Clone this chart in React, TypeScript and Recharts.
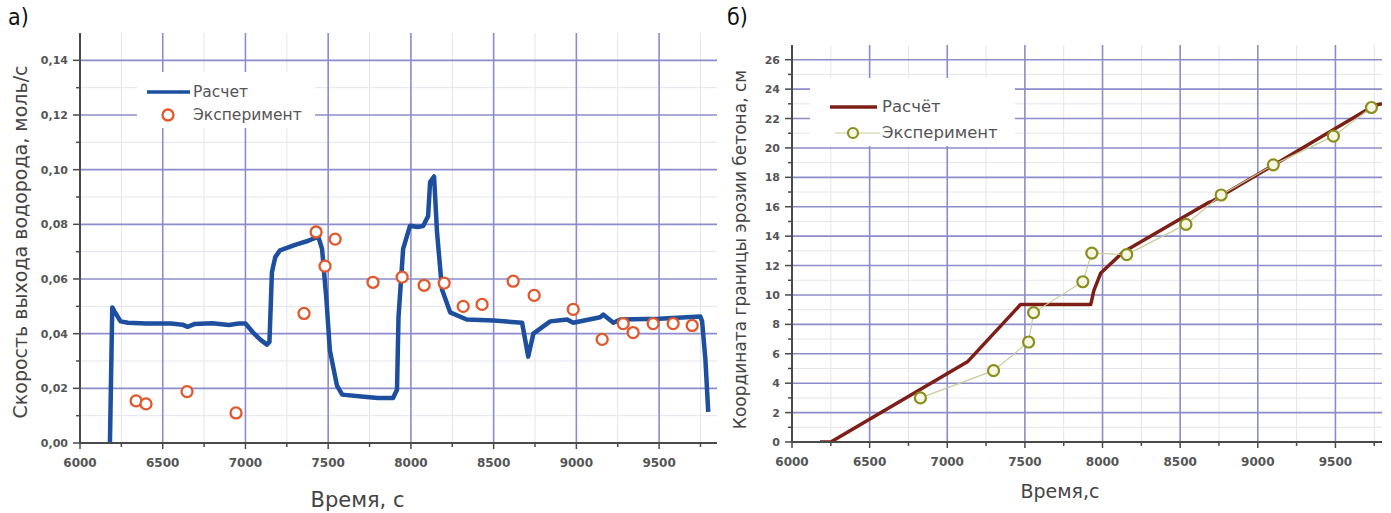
import { CartesianGrid, ComposedChart, Legend, Line, Scatter, XAxis, YAxis } from 'recharts';

const FONT = '"DejaVu Sans", "Liberation Sans", Arial, sans-serif';
const AXIS = '#4a4a4a';
const GRID_MAJOR = '#8c8cca';
const GRID_MINOR = '#e4e4ee';

// ---- panel a): hydrogen release rate ----
const calcTimeA = [
    6181, 6195, 6210, 6225, 6245, 6290, 6400, 6550, 6620, 6650, 6690, 6800, 6900, 6960, 7000,
    7046, 7090, 7130, 7145, 7160, 7180, 7209, 7300, 7380, 7440, 7463, 7490, 7510, 7553, 7585,
    7700, 7800, 7892, 7916, 7925, 7953, 7995, 8040, 8074, 8104, 8116, 8140, 8158, 8188, 8237,
    8337, 8500, 8672, 8709, 8740, 8842, 8944, 8981, 9144, 9162, 9224, 9265, 9500, 9749, 9760,
    9780, 9797,
];
const calcRateA = [
    0, 0.0496, 0.048, 0.0465, 0.0445, 0.044, 0.0437, 0.0437, 0.0433, 0.0425, 0.0435, 0.0438, 0.0432, 0.0437, 0.0437,
    0.0404, 0.0378, 0.036, 0.037, 0.0625, 0.068, 0.0705, 0.0725, 0.074, 0.0755, 0.071, 0.052, 0.034, 0.021, 0.0177,
    0.017, 0.0165, 0.0165, 0.0195, 0.046, 0.071, 0.0795, 0.079, 0.0794, 0.083, 0.0955, 0.0975, 0.077, 0.0562, 0.0478,
    0.0452, 0.0448, 0.044, 0.0316, 0.04, 0.0445, 0.0452, 0.044, 0.046, 0.047, 0.044, 0.0452, 0.0455, 0.0463, 0.0445,
    0.0305, 0.0114,
];
const expTimeA = [
    6339, 6399, 6647, 6943, 7354, 7427, 7481, 7542, 7771, 7947, 8080, 8201, 8316, 8430, 8618,
    8745, 8981, 9156, 9283, 9343, 9464, 9585, 9700,
];
const expRateA = [
    0.0154, 0.0143, 0.0188, 0.011, 0.0474, 0.0772, 0.0647, 0.0746, 0.0588, 0.0607, 0.0577, 0.0585, 0.05, 0.0507, 0.0592,
    0.054, 0.0489, 0.0379, 0.0437, 0.0404, 0.0437, 0.0437, 0.043,
];

// ---- panel б): concrete erosion front ----
const calcTimeB = [6180, 6250, 7130, 7472, 7924, 7944, 7989, 8131, 8686, 8712, 9752, 9800];
const calcDepthB = [0, 0, 5.45, 9.35, 9.35, 10.3, 11.5, 12.9, 16.3, 16.4, 22.9, 23.0];
const expTimeB = [6827, 7298, 7524, 7556, 7873, 7931, 8156, 8537, 8764, 9100, 9487, 9732];
const expDepthB = [3.0, 4.85, 6.8, 8.8, 10.9, 12.85, 12.75, 14.8, 16.8, 18.85, 20.8, 22.75];

// ---- ticks ----
const timeTicks = [
    6000, 6250, 6500, 6750, 7000, 7250, 7500, 7750, 8000, 8250, 8500, 8750, 9000, 9250, 9500, 9750,
];
const timeMajor = [6500, 7000, 7500, 8000, 8500, 9000, 9500];
const timeMinor = [6250, 6750, 7250, 7750, 8250, 8750, 9250, 9750];
const rateTicks = [0, 0.01, 0.02, 0.03, 0.04, 0.05, 0.06, 0.07, 0.08, 0.09, 0.1, 0.11, 0.12, 0.13, 0.14];
const rateMajor = [0.02, 0.04, 0.06, 0.08, 0.1, 0.12, 0.14];
const rateMinor = [0.01, 0.03, 0.05, 0.07, 0.09, 0.11, 0.13];
const depthTicks = [0, 1, 2, 3, 4, 5, 6, 7, 8, 9, 10, 11, 12, 13, 14, 15, 16, 17, 18, 19, 20, 21, 22, 23, 24, 25, 26];
const depthMajor = [2, 4, 6, 8, 10, 12, 14, 16, 18, 20, 22, 24, 26];
const depthMinor = [1, 3, 5, 7, 9, 11, 13, 15, 17, 19, 21, 23, 25];

const zip = (xs: number[], ys: number[]) => xs.map((x, i) => ({ x, y: ys[i] }));
const calcA = zip(calcTimeA, calcRateA);
const expA = zip(expTimeA, expRateA);
const calcB = zip(calcTimeB, calcDepthB);
const expB = zip(expTimeB, expDepthB);

function TimeTick(props: any) {
    const { x, y, payload } = props;
    const major = payload.value % 500 === 0;
    return (
        <g>
            <line x1={x} x2={x} y1={y} y2={y + (major ? 6 : 4)} stroke={AXIS} strokeWidth={1.5} />
            {major && (
                <text x={x} y={y + 24} textAnchor="middle" fontSize={12} fontWeight="bold" fill="#555" fontFamily={FONT}>
                    {payload.value}
                </text>
            )}
        </g>
    );
}

function ValueTick(props: any) {
    const { x, y, payload, kind } = props;
    const v = payload.value;
    const major = kind === 'rate' ? Math.round(v * 100) % 2 === 0 : v % 2 === 0;
    const label = kind === 'rate' ? v.toFixed(2).replace('.', ',') : String(v);
    return (
        <g>
            <line x1={x - (major ? 7 : 4)} x2={x} y1={y} y2={y} stroke={AXIS} strokeWidth={1.5} />
            {major && (
                <text x={x - 12} y={y + 4} textAnchor="end" fontSize={11} fontWeight="bold" fill="#555" fontFamily={FONT}>
                    {label}
                </text>
            )}
        </g>
    );
}

function Title(props: any) {
    const { viewBox, value, dx = 0, dy = 0, rotate, fontSize } = props;
    const cx = rotate ? viewBox.x + dx : viewBox.x + viewBox.width / 2 + dx;
    const cy = rotate ? viewBox.y + viewBox.height / 2 + dy : viewBox.y + dy;
    return (
        <text
            x={cx}
            y={cy}
            textAnchor="middle"
            dominantBaseline="central"
            transform={rotate ? `rotate(-90 ${cx} ${cy})` : undefined}
            fontSize={fontSize}
            fill="#444"
            fontFamily={FONT}
        >
            {value}
        </text>
    );
}

function LegendA() {
    return (
        <div style={{ position: 'relative', width: 178, height: 56, background: '#fff', fontFamily: FONT, fontSize: 15.5, color: '#555' }}>
            <svg width={178} height={56} style={{ position: 'absolute', left: 0, top: 0 }}>
                <line x1={10} x2={53} y1={20} y2={20} stroke="#1d4f9e" strokeWidth={3.5} />
                <circle cx={31} cy={43} r={5.5} fill="#fff" stroke="#e2572b" strokeWidth={2.3} />
            </svg>
            <span style={{ position: 'absolute', left: 56, top: 10, lineHeight: '20px' }}>Расчет</span>
            <span style={{ position: 'absolute', left: 56, top: 33, lineHeight: '20px' }}>Эксперимент</span>
        </div>
    );
}

function LegendB() {
    return (
        <div style={{ position: 'relative', width: 205, height: 68, background: '#fff', fontFamily: FONT, fontSize: 16.5, color: '#555' }}>
            <svg width={205} height={68} style={{ position: 'absolute', left: 0, top: 0 }}>
                <line x1={20} x2={67} y1={29} y2={29} stroke="#7d1f17" strokeWidth={3.5} />
                <line x1={25} x2={70} y1={55} y2={55} stroke="#c8cc9a" strokeWidth={1.2} />
                <circle cx={43} cy={55} r={5} fill="#f6f7e2" stroke="#8a8f1f" strokeWidth={2.2} />
            </svg>
            <span style={{ position: 'absolute', left: 72, top: 18, lineHeight: '22px' }}>Расчёт</span>
            <span style={{ position: 'absolute', left: 72, top: 44, lineHeight: '22px' }}>Эксперимент</span>
        </div>
    );
}

function ExpDotB(props: any) {
    const { cx, cy } = props;
    return <circle cx={cx} cy={cy} r={5.5} fill="#f6f7e2" stroke="#8a8f1f" strokeWidth={2.2} />;
}

function ExpDotA(props: any) {
    const { cx, cy } = props;
    return <circle cx={cx} cy={cy} r={5.5} fill="#fff" stroke="#e2572b" strokeWidth={2.3} />;
}

function PanelLetter({ text, left }: { text: string; left: number }) {
    return (
        <div style={{ position: 'absolute', left, top: 4, fontFamily: '"DejaVu Sans Condensed", "DejaVu Sans", sans-serif', fontSize: 23, color: '#111' }}>
            {text}
        </div>
    );
}

export default function App() {
    return (
        <div style={{ position: 'absolute', left: 0, top: 0, width: 1391, height: 513, background: '#fff', overflow: 'hidden' }}>
            <PanelLetter text="а)" left={8} />
            <PanelLetter text="б)" left={727} />

            <div style={{ position: 'absolute', left: 0, top: 0 }}>
                <ComposedChart width={720} height={513} margin={{ top: 33, right: 3, bottom: 0, left: 0 }}>
                    <CartesianGrid stroke={GRID_MINOR} strokeWidth={1} horizontalValues={rateMinor} verticalValues={timeMinor} />
                    <CartesianGrid stroke={GRID_MAJOR} strokeWidth={1.6} horizontalValues={rateMajor} verticalValues={timeMajor} />
                    <XAxis
                        type="number"
                        dataKey="x"
                        domain={[6000, 9850]}
                        ticks={timeTicks}
                        interval={0}
                        allowDataOverflow
                        height={70}
                        tickSize={0}
                        tickMargin={0}
                        tickLine={false}
                        tick={<TimeTick />}
                        axisLine={{ stroke: AXIS, strokeWidth: 2 }}
                        label={<Title value="Время, с" dx={-41} dy={57} fontSize={21} />}
                    />
                    <YAxis
                        type="number"
                        dataKey="y"
                        domain={[0, 0.15]}
                        ticks={rateTicks}
                        interval={0}
                        allowDataOverflow
                        width={80}
                        tickSize={0}
                        tickMargin={0}
                        tickLine={false}
                        tick={<ValueTick kind="rate" />}
                        axisLine={{ stroke: AXIS, strokeWidth: 2 }}
                        label={<Title value="Скорость выхода водорода, моль/с" rotate dx={20} dy={4} fontSize={19} />}
                    />
                    <Line
                        data={calcA}
                        dataKey="y"
                        type="linear"
                        stroke="#1d4f9e"
                        strokeWidth={4.5}
                        strokeLinejoin="round"
                        dot={false}
                        isAnimationActive={false}
                        legendType="none"
                    />
                    <Scatter data={expA} dataKey="y" shape={<ExpDotA />} isAnimationActive={false} legendType="none" />
                    <Legend
                        verticalAlign="middle"
                        align="center"
                        layout="horizontal"
                        wrapperStyle={{ left: 137, top: 72, width: 178, height: 56 }}
                        content={() => <LegendA />}
                    />
                </ComposedChart>
            </div>

            <div style={{ position: 'absolute', left: 700, top: 0 }}>
                <ComposedChart width={691} height={513} margin={{ top: 45, right: 9, bottom: 0, left: 0 }}>
                    <CartesianGrid stroke={GRID_MINOR} strokeWidth={1} horizontalValues={depthMinor} verticalValues={timeMinor} />
                    <CartesianGrid stroke={GRID_MAJOR} strokeWidth={1.6} horizontalValues={depthMajor} verticalValues={timeMajor} />
                    <XAxis
                        type="number"
                        dataKey="x"
                        domain={[6000, 9800]}
                        ticks={timeTicks}
                        interval={0}
                        allowDataOverflow
                        height={71}
                        tickSize={0}
                        tickMargin={0}
                        tickLine={false}
                        tick={<TimeTick />}
                        axisLine={{ stroke: AXIS, strokeWidth: 2 }}
                        label={<Title value="Время,с" dx={-27} dy={49} fontSize={19} />}
                    />
                    <YAxis
                        type="number"
                        dataKey="y"
                        domain={[0, 27]}
                        ticks={depthTicks}
                        interval={0}
                        allowDataOverflow
                        width={92}
                        tickSize={0}
                        tickMargin={0}
                        tickLine={false}
                        tick={<ValueTick kind="depth" />}
                        axisLine={{ stroke: AXIS, strokeWidth: 2 }}
                        label={<Title value="Координата границы эрозии бетона, см" rotate dx={40} dy={6} fontSize={17} />}
                    />
                    <Line
                        data={calcB}
                        dataKey="y"
                        type="linear"
                        stroke="#7d1f17"
                        strokeWidth={3.5}
                        strokeLinejoin="round"
                        dot={false}
                        isAnimationActive={false}
                        legendType="none"
                    />
                    <Line
                        data={expB}
                        dataKey="y"
                        type="linear"
                        stroke="#c8cc9a"
                        strokeWidth={1.2}
                        dot={<ExpDotB />}
                        isAnimationActive={false}
                        legendType="none"
                    />
                    <Legend
                        verticalAlign="middle"
                        align="center"
                        layout="horizontal"
                        wrapperStyle={{ left: 110, top: 78, width: 205, height: 68 }}
                        content={() => <LegendB />}
                    />
                </ComposedChart>
            </div>
        </div>
    );
}
